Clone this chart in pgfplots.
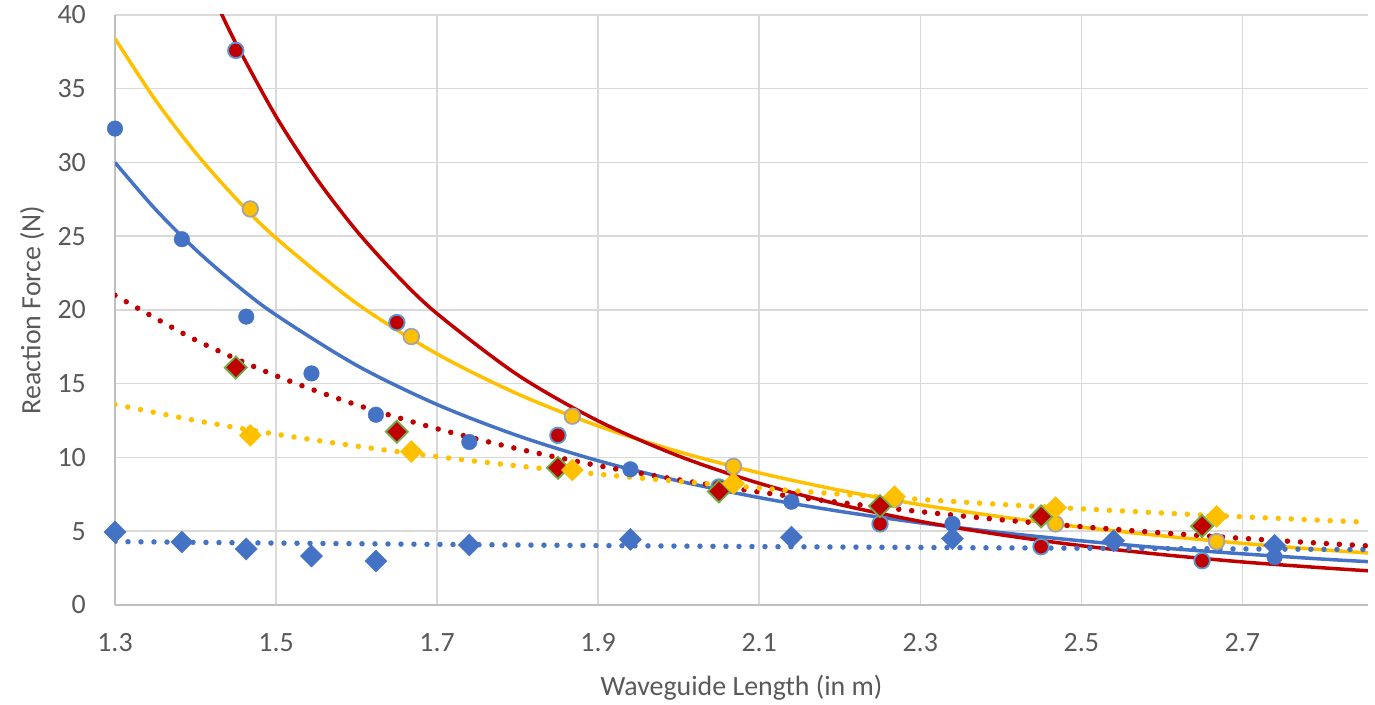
\documentclass[border=0pt]{standalone}
\usepackage{fontspec}
\setmainfont{Carlito}
\usepackage{pgfplots}
\pgfplotsset{compat=1.18}
\definecolor{cblue}{HTML}{4472C4}
\definecolor{cyel}{HTML}{FFC000}
\definecolor{cred}{HTML}{C00000}
\definecolor{cgreen}{HTML}{70AD47}
\definecolor{cgray}{HTML}{A5A5A5}
\definecolor{clblue}{HTML}{5B9BD5}
\definecolor{cgrid}{HTML}{D9D9D9}
\definecolor{caxis}{HTML}{BFBFBF}
\definecolor{ctext}{HTML}{595959}
\begin{document}
\begin{tikzpicture}
\begin{axis}[
  at={(115bp,100bp)}, anchor=south west,
  width=1253bp, height=590bp, scale only axis,
  xmin=1.3, xmax=2.856, ymin=0, ymax=40,
  axis x line*=bottom, axis y line*=left,
  axis line style={draw=caxis, line width=1.5bp, -},
  major tick length=0pt,
  xtick={1.3,1.5,1.7,1.9,2.1,2.3,2.5,2.7},
  xticklabels={1.3,1.5,1.7,1.9,2.1,2.3,2.5,2.7},
  ytick={0,5,10,15,20,25,30,35,40},
  grid=major, grid style={draw=cgrid, line width=1.5bp},
  /pgf/number format/assume math mode=true,
  tick label style={font=\fontsize{28}{32}\selectfont, text=ctext, inner sep=0pt},
  xticklabel style={anchor=base, yshift=-46bp},
  yticklabel style={anchor=east, xshift=-29bp},
  label style={font=\fontsize{28}{32}\selectfont, text=ctext, inner sep=0pt},
  xlabel={Waveguide Length (in m)},
  ylabel={Reaction Force (N)},
  xlabel style={at={(axis description cs:0.5,0)}, anchor=base, yshift=-90bp},
  ylabel style={at={(axis description cs:0,0.5)}, anchor=center, yshift=83bp},
  clip marker paths=false,
]
% ---- yellow circles + power trend (solid)
\addplot[only marks, mark=*, mark size=7.8bp, mark options={fill=cyel, draw=cgray, line width=1.8bp}] coordinates {
 (1.468,26.85) (1.668,18.2) (1.868,12.8) (2.068,9.4) (2.268,7.15) (2.468,5.5) (2.668,4.3)};
\addplot[no marks, smooth, cyel, line width=3.5bp] coordinates {
 (1.3,38.4) (1.35,34.25) (1.4,30.67) (1.45,27.57) (1.5,24.88) (1.6,20.45) (1.7,17.02)
 (1.8,14.31) (1.9,12.14) (2.0,10.39) (2.1,8.96) (2.2,7.78) (2.3,6.80) (2.4,5.98)
 (2.5,5.28) (2.6,4.69) (2.7,4.18) (2.8,3.74) (2.856,3.53)};
% ---- blue circles + power trend (solid)
\addplot[only marks, mark=*, mark size=7.8bp, mark options={fill=cblue, draw=cblue}] coordinates {
 (1.3,32.3) (1.383,24.8) (1.463,19.55) (1.544,15.7) (1.624,12.9) (1.74,11.05)
 (1.94,9.2) (2.14,7.0) (2.34,5.5) (2.54,4.3) (2.74,3.25)};
\addplot[no marks, smooth, cblue, line width=3.5bp] coordinates {
 (1.3,30.0) (1.35,26.84) (1.4,24.10) (1.45,21.73) (1.5,19.66) (1.6,16.25) (1.7,13.59)
 (1.8,11.48) (1.9,9.78) (2.0,8.41) (2.1,7.28) (2.2,6.35) (2.3,5.57) (2.4,4.91)
 (2.5,4.35) (2.6,3.87) (2.7,3.47) (2.8,3.11) (2.856,2.94)};
% ---- red circles + power trend (solid)
\addplot[only marks, mark=*, mark size=7.8bp, mark options={fill=cred, draw=clblue, line width=1.8bp}] coordinates {
 (1.45,37.6) (1.65,19.15) (1.85,11.5) (2.05,8.0) (2.25,5.5) (2.45,3.95) (2.65,3.0)};
\addplot[no marks, smooth, cred, line width=3.5bp] coordinates {
 (1.43,40.35) (1.45,38.10) (1.5,33.12) (1.55,28.93) (1.6,25.37) (1.65,22.35) (1.7,19.75)
 (1.8,15.60) (1.9,12.48) (2.0,10.10) (2.1,8.25) (2.2,6.81) (2.3,5.67) (2.4,4.76)
 (2.5,4.02) (2.6,3.42) (2.7,2.92) (2.8,2.52) (2.856,2.32)};
% ---- blue diamonds + trend (dotted)
\addplot[only marks, mark=square*, mark size=7.8bp, mark options={rotate=45, fill=cblue, draw=cblue}] coordinates {
 (1.3,4.95) (1.383,4.27) (1.463,3.8) (1.544,3.32) (1.624,2.98) (1.74,4.07)
 (1.94,4.45) (2.14,4.6) (2.34,4.5) (2.54,4.35) (2.74,4.05)};
\addplot[no marks, smooth, cblue, line width=5.5bp, line cap=round, dash pattern=on 0bp off 13bp] coordinates {
 (1.3,4.30) (1.5,4.20) (1.7,4.11) (1.9,4.03) (2.1,3.96) (2.3,3.90) (2.5,3.85) (2.7,3.80) (2.856,3.76)};
% ---- red diamonds + trend (dotted)
\addplot[only marks, mark=square*, mark size=7.8bp, mark options={rotate=45, fill=cred, draw=cgreen, line width=1.8bp}] coordinates {
 (1.45,16.1) (1.65,11.75) (1.85,9.3) (2.05,7.7) (2.25,6.7) (2.45,6.0) (2.65,5.35)};
\addplot[no marks, smooth, cred, line width=5.5bp, line cap=round, dash pattern=on 0bp off 13bp] coordinates {
 (1.3,21.0) (1.4,17.97) (1.5,15.54) (1.6,13.57) (1.7,11.95) (1.8,10.59) (1.9,9.45)
 (2.0,8.49) (2.1,7.66) (2.2,6.95) (2.3,6.33) (2.4,5.78) (2.5,5.31) (2.6,4.89)
 (2.7,4.52) (2.8,4.18) (2.856,4.01)};
% ---- yellow diamonds + trend (dotted)
\addplot[only marks, mark=square*, mark size=7.8bp, mark options={rotate=45, fill=cyel, draw=cyel}] coordinates {
 (1.468,11.5) (1.668,10.4) (1.868,9.15) (2.068,8.25) (2.268,7.35) (2.468,6.6) (2.668,6.0)};
\addplot[no marks, smooth, cyel, line width=5.5bp, line cap=round, dash pattern=on 0bp off 13bp] coordinates {
 (1.3,13.6) (1.4,12.51) (1.5,11.58) (1.6,10.77) (1.7,10.06) (1.8,9.43) (1.9,8.87)
 (2.0,8.38) (2.1,7.93) (2.2,7.52) (2.3,7.16) (2.4,6.82) (2.5,6.52) (2.6,6.24)
 (2.7,5.98) (2.8,5.74) (2.856,5.61)};
\end{axis}
\pgfresetboundingbox
\useasboundingbox (0,0) rectangle (1375bp,705bp);
\end{tikzpicture}
\end{document}
